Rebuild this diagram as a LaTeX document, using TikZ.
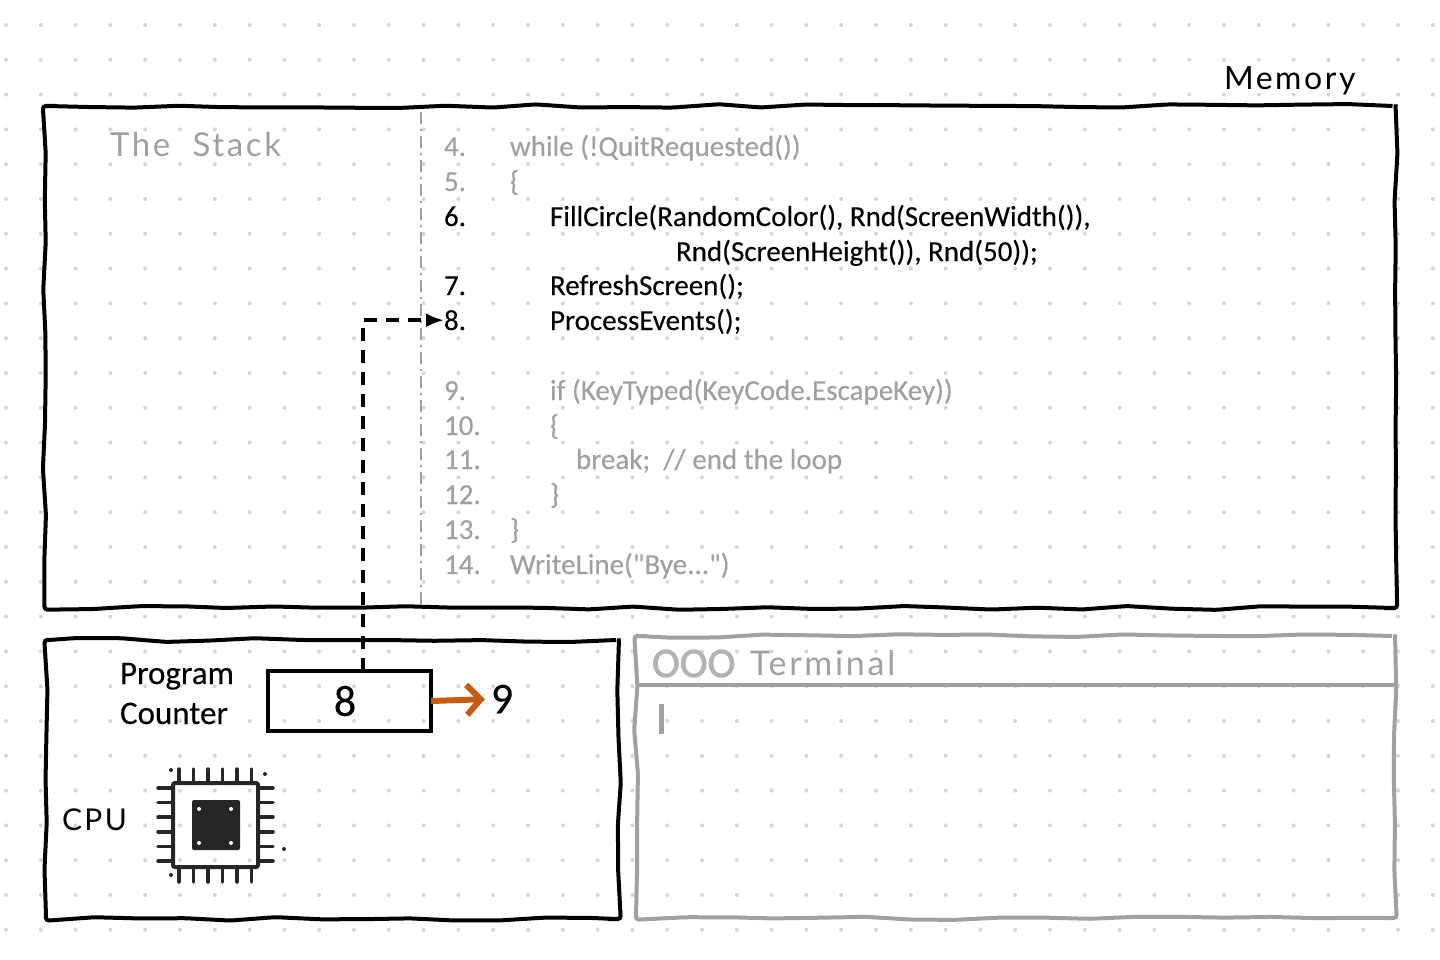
\documentclass[tikz,border=0pt]{standalone}
\usepackage{fontspec}
\setmainfont[FakeBold=0.25]{Carlito}
\newfontfamily\quotefont[FakeBold=0.25,Ligatures=NoCommon]{Carlito}
\newfontfamily\lightsfont[FakeBold=2]{Carlito}
\newfontfamily\handfont[LetterSpace=8]{Lato}
\usetikzlibrary{arrows.meta, positioning}
\usetikzlibrary{decorations.pathmorphing}
\definecolor{faded}{HTML}{A0A0A0}
\definecolor{griddot}{HTML}{D4D4D4}
\definecolor{incarrow}{HTML}{C55A11}
\newcommand{\sz}[1]{\fontsize{#1}{#1}\selectfont}

\begin{document}
\begin{tikzpicture}[
    x=1pt, y=-1pt,
    every node/.style={inner sep=0pt, outer sep=0pt},
    plainbox/.style={draw, rectangle, line width=4pt},
    wobbly/.style={plainbox, rounded corners=3pt, decorate,
        decoration={random steps, segment length=45pt, amplitude=2pt}},
    codeon/.style={anchor=base west, text=black, font=\sz{29}},
    codeoff/.style={codeon, text=faded},
    hand/.style={anchor=base west, font=\handfont\sz{32}},
    pin/.style={line width=3.5pt, line cap=round, color=black!85}]

    \useasboundingbox (0,0) rectangle (1440,960);

    % dotted paper
    \foreach \i in {0,...,41} {
        \foreach \j in {0,...,26} {
            \fill[griddot] (6+34.8*\i,25+34.8*\j) circle (2);
        }
    }

    % memory
    \node[wobbly, minimum width=1351pt, minimum height=502pt] (stack) at (720,357) {};
    \node[hand] (memory) at (1224,90) {Memory};
    \node[hand, text=faded, font=\handfont\sz{33}] (stacklabel) at (110,157) {The\ \ Stack};
    \coordinate (divtop) at (421,112);
    \coordinate (divbot) at (421,604);
    \draw[faded, line width=2.5pt, dash pattern=on 12pt off 5pt on 2pt off 5pt] (divtop) -- (divbot);

    % code
    \node[codeoff] (n4) at (444,156) {4.};
    \node[codeoff] (c4) at (510,156) {while (!QuitRequested())};
    \node[codeoff] (n5) at (444,191) {5.};
    \node[codeoff] (c5) at (510,191) {\{};
    \node[codeon] (n6) at (444,226) {6.};
    \node[codeon] (c6) at (550,226) {FillCircle(RandomColor(), Rnd(ScreenWidth()),};
    \node[codeon] (c6b) at (676,261) {Rnd(ScreenHeight()), Rnd(50));};
    \node[codeon] (n7) at (444,295) {7.};
    \node[codeon] (c7) at (550,295) {RefreshScreen();};
    \node[codeon] (n8) at (444,330) {8.};
    \node[codeon] (c8) at (550,330) {ProcessEvents();};
    \node[codeoff] (n9) at (444,400) {9.};
    \node[codeoff] (c9) at (550,400) {if (KeyTyped(KeyCode.EscapeKey))};
    \node[codeoff] (n10) at (444,435) {10.};
    \node[codeoff] (c10) at (550,435) {\{};
    \node[codeoff] (n11) at (444,469) {11.};
    \node[codeoff] (c11) at (576,469) {break;\ \ // end the loop};
    \node[codeoff] (n12) at (444,504) {12.};
    \node[codeoff] (c12) at (550,504) {\}};
    \node[codeoff] (n13) at (444,539) {13.};
    \node[codeoff] (c13) at (510,539) {\}};
    \node[codeoff] (n14) at (444,574) {14.};
    \node[codeoff] (c14) at (510,574) {\quotefont WriteLine("Bye...")};

    % cpu
    \node[wobbly, minimum width=573pt, minimum height=279pt] (cpu) at (332.5,779.5) {};
    \node[anchor=base west, font=\sz{33}] (pclabel) at (120,684) {Program};
    \node[anchor=base west, font=\sz{33}] (pclabel2) at (120,724) {Counter};
    \node[plainbox, minimum width=163pt, minimum height=60pt] (pc) at (349.5,701) {};
    \node[font=\sz{44}] (pcval) at (345,701) {8};
    \node[font=\sz{44}] (nextval) at (502,699) {9};
    \node[hand, font=\handfont\sz{30}] (cpulabel) at (62,830) {CPU};

    % chip
    \node[draw, rectangle, line width=4pt, color=black!85, minimum width=85pt, minimum height=84pt, rounded corners=2pt] (chip) at (215.5,825) {};
    \node[fill=black!85, minimum width=48pt, minimum height=50pt, rounded corners=2pt] (core) at (216,825) {};
    \foreach \i in {0,...,5} {
        \draw[pin] (179+14.5*\i,769) -- (179+14.5*\i,782);
        \draw[pin] (179+14.5*\i,869) -- (179+14.5*\i,882);
        \draw[pin] (158,788+14.6*\i) -- (171,788+14.6*\i);
        \draw[pin] (260,788+14.6*\i) -- (273,788+14.6*\i);
    }
    \foreach \px/\py in {199/809,231/809,199/843,231/843} {
        \fill[white] (\px,\py) circle (2);
    }
    \foreach \px/\py in {171/770,265/774,171/875,284/849} {
        \fill[black!85] (\px,\py) circle (2);
    }

    % terminal
    \node[wobbly, draw=faded, minimum width=759pt, minimum height=282pt] (term) at (1015.5,777) {};
    \coordinate (headl) at (636,685);
    \coordinate (headr) at (1395,685);
    \draw[faded, line width=4pt] (headl) -- (headr);
    \node[anchor=base west, text=faded!80, font=\lightsfont\sz{42}] (lights) at (652,677) {OOO};
    \node[hand, text=faded, font=\handfont\sz{34}] (termlabel) at (750,675) {Terminal};
    \fill[faded] (659,704) rectangle (664,734);

    % connectors
    \draw[-{Latex[length=18pt,width=14pt]}, line width=3.5pt, dash pattern=on 13pt off 9pt] (pc.north -| 363,0) |- (n8.west);
    \draw[-{Straight Barb[length=14pt,width=30pt]}, color=incarrow, line width=6pt, shorten >=6pt] (pc.east) -- (nextval.west);

\end{tikzpicture}
\end{document}
